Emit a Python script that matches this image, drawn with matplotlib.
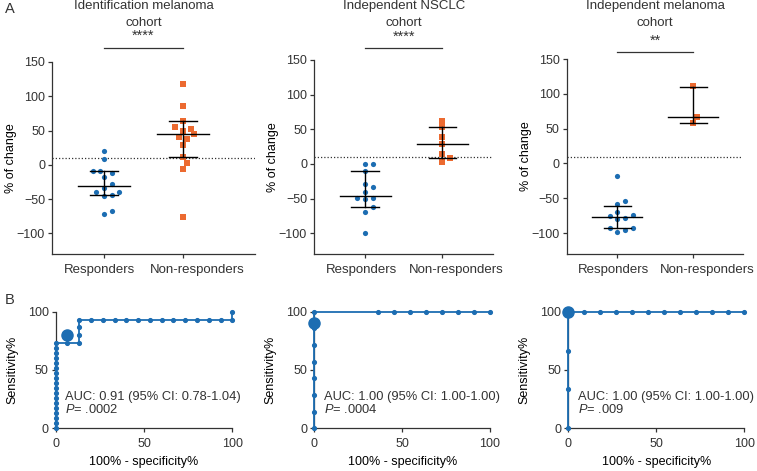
import numpy as np
import matplotlib.pyplot as plt
from matplotlib.transforms import blended_transform_factory, ScaledTranslation

plt.rcParams['font.family'] = ['Liberation Sans', 'DejaVu Sans']
plt.rcParams['mathtext.fontset'] = 'custom'
plt.rcParams['mathtext.it'] = 'Liberation Sans:italic'
plt.rcParams['mathtext.rm'] = 'Liberation Sans'
plt.rcParams['text.color'] = '#333333'
plt.rcParams['xtick.color'] = '#333333'
plt.rcParams['ytick.color'] = '#333333'

BLUE = '#1c6db2'
ORANGE = '#ec6a30'
DARK = '#333333'

# --- panel A: % of change per cohort ---
titles = ["Identification melanoma\ncohort", "Independent NSCLC\ncohort", "Independent melanoma\ncohort"]
stars = ["****", "****", "**"]
categories = ["Responders", "Non-responders"]

resp1 = [20, 8, -9, -12, -9, -17.5, -28.5, -34, -39, -44, -45, -39, -72, -68]
nonresp1 = [118, 86, 64, 53, 55, 49, 45, 38, 40, 29, 11, 2.5, -6, -76]
resp2 = [0, 0, -9.6, -29, -34, -41, -49.5, -51, -49.5, -61.5, -68.7, -100]
nonresp2 = [62.5, 53, 39, 28.4, 15, 9, 2.4]
resp3 = [-18, -54, -58.4, -70.4, -74.7, -75.2, -77.6, -80, -92.4, -92, -98.6, -96.2]
nonresp3 = [110.8, 66.4, 57.8]

# median, lower and upper bar
resp_med = [-31, -45.7, -76.6]
resp_lo = [-43.7, -61.5, -92]
resp_hi = [-8.7, -9.6, -61.3]
nonresp_med = [44.8, 28.4, 66.4]
nonresp_lo = [10.8, 9.1, 57.8]
nonresp_hi = [63.7, 53.8, 110]

cutoff = 10

# --- panel B: ROC curves ---
roc1_x = [0] * 18 + [6.67, 13.33, 13.33, 13.33, 13.33, 20, 26.67, 33.33, 40, 46.67,
                     53.33, 60, 66.67, 73.33, 80, 86.67, 93.33, 100, 100]
roc1_y = [0, 4.3, 8.6, 12.9, 17.3, 21.6, 25.9, 30.2, 34.5, 38.8, 43.1, 47.4, 51.8,
          56.1, 60.4, 64.7, 69.0, 73.3, 73.3, 73.3, 80, 86.7, 93.3] + [93.3] * 13 + [100]
roc2_x = [0] * 8 + [36.4, 45.5, 54.5, 63.6, 72.7, 81.8, 90.9, 100]
roc2_y = [0, 14.3, 28.6, 42.9, 57.1, 71.4, 85.7, 100] + [100] * 8
roc3_x = [0, 0, 0, 0, 9.1, 18.2, 27.3, 36.4, 45.5, 54.5, 63.6, 72.7, 81.8, 90.9, 100]
roc3_y = [0, 33.3, 66.7, 100] + [100] * 11
best_x = [6.67, 0, 0]
best_y = [80, 90, 100]
auc_text = ["AUC: 0.91 (95% CI: 0.78-1.04)", "AUC: 1.00 (95% CI: 1.00-1.00)", "AUC: 1.00 (95% CI: 1.00-1.00)"]
p_text = [".0002", ".0004", ".009"]


def swarm(vals, ppu_x, ppu_y, diam=6.5, step=3.8):
    # simple beeswarm: spread points sideways so they do not overlap (pixel space)
    vals = np.asarray(vals, dtype=float)
    offs = np.zeros(len(vals))
    placed = []
    cands = [0.0] + [s * j * step for j in range(1, 30) for s in (1, -1)]
    for i in np.argsort(vals):
        y = vals[i] * ppu_y
        for c in cands:
            if all((c - px) ** 2 + (y - py) ** 2 >= diam ** 2 for px, py in placed):
                break
        placed.append((c, y))
        offs[i] = c / ppu_x
    return offs


fig = plt.figure(figsize=(7.57, 4.71), dpi=100)
W, H = 757, 471


def frac(left, right, top, bottom):
    return [left / W, 1 - bottom / H, (right - left) / W, (bottom - top) / H]


a_boxes = [frac(52, 255, 62, 254), frac(314, 493, 60, 254), frac(566.7, 743, 59, 254)]
a_xlims = [(-0.658, 1.911), (-0.66, 1.656), (-0.666, 1.654)]
sig_px = [47.7, 47.7, 51.7]
star_px = [36, 37, 41]
resp_all = [resp1, resp2, resp3]
nonresp_all = [nonresp1, nonresp2, nonresp3]
label_shift = [-4, 14]  # px; the category labels sit apart as in the original

for i in range(3):
    ax = fig.add_axes(a_boxes[i])
    ax.set_xlim(*a_xlims[i])
    ax.set_ylim(-130, 150)
    ppu_x = a_boxes[i][2] * W / (a_xlims[i][1] - a_xlims[i][0])
    ppu_y = a_boxes[i][3] * H / 280

    ax.axhline(cutoff, color=DARK, lw=0.9, ls=(0, (1, 1.6)), zorder=1)

    r = np.array(resp_all[i])
    n = np.array(nonresp_all[i])
    ax.scatter(0 + swarm(r, ppu_x, ppu_y), r, s=14, marker='o', color=BLUE,
               linewidths=0, zorder=3)
    ax.scatter(1 + swarm(n, ppu_x, ppu_y), n, s=13, marker='s', color=ORANGE,
               linewidths=0, zorder=3)

    for g, med, lo, hi in [(0, resp_med[i], resp_lo[i], resp_hi[i]),
                           (1, nonresp_med[i], nonresp_lo[i], nonresp_hi[i])]:
        ax.plot([g - 0.33, g + 0.33], [med, med], color='black', lw=1.0, zorder=4)
        ax.plot([g - 0.175, g + 0.175], [lo, lo], color='black', lw=1.0, zorder=4)
        ax.plot([g - 0.175, g + 0.175], [hi, hi], color='black', lw=1.0, zorder=4)
        ax.plot([g, g], [lo, hi], color='black', lw=1.0, zorder=4)

    ax.set_yticks([-100, -50, 0, 50, 100, 150])
    ax.set_xticks([0, 1])
    ax.set_xticklabels(categories, fontsize=9.5)
    ax.tick_params(axis='y', labelsize=9, length=3, width=0.9, pad=2)
    ax.tick_params(axis='x', length=3, width=0.9, pad=4)
    for lab, dx in zip(ax.get_xticklabels(), label_shift):
        lab.set_transform(lab.get_transform() + ScaledTranslation(dx / 100, 0, fig.dpi_scale_trans))
    ax.set_ylabel("% of change", fontsize=9, labelpad=0)
    for s in ['top', 'right']:
        ax.spines[s].set_visible(False)
    for s in ['left', 'bottom']:
        ax.spines[s].set_color(DARK)
        ax.spines[s].set_linewidth(0.9)

    tr = blended_transform_factory(ax.transData, fig.transFigure)
    ax.plot([0, 1], [1 - sig_px[i] / H] * 2, color=DARK, lw=0.9, transform=tr, clip_on=False)
    ax.text(0.5, 1 - star_px[i] / H, stars[i], transform=tr, ha='center', va='center',
            fontsize=10.5)
    ax.text(0.5, 1 - 14.5 / H, titles[i], transform=tr, ha='center', va='center',
            fontsize=9.5, linespacing=1.45)

b_boxes = [frac(55.7, 232.3, 311.7, 428.3), frac(314.3, 490, 311.7, 428.3),
           frac(568.3, 744.3, 311.7, 428.3)]
roc_x = [roc1_x, roc2_x, roc3_x]
roc_y = [roc1_y, roc2_y, roc3_y]

for i in range(3):
    ax = fig.add_axes(b_boxes[i])
    ax.set_xlim(0, 100)
    ax.set_ylim(0, 100)
    ax.plot(roc_x[i], roc_y[i], '-o', color=BLUE, lw=1.3, ms=2.7, clip_on=False, zorder=3)
    ax.plot(best_x[i], best_y[i], 'o', color=BLUE, ms=8, clip_on=False, zorder=4)
    ax.set_xticks([0, 50, 100])
    ax.set_yticks([0, 50, 100])
    ax.tick_params(labelsize=9, length=3, width=0.9, pad=2)
    ax.tick_params(axis='x', pad=4)
    ax.set_xlabel("100% - specificity%", fontsize=9, labelpad=4)
    ax.set_ylabel("Sensitivity%", fontsize=9, labelpad=7)
    for s in ['top', 'right']:
        ax.spines[s].set_visible(False)
    for s in ['left', 'bottom']:
        ax.spines[s].set_color(DARK)
        ax.spines[s].set_linewidth(0.9)
    ax.text(5.3, 26.6, auc_text[i], fontsize=9.3, va='center', ha='left')
    ax.text(5.3, 16.5, "$P$= " + p_text[i], fontsize=9.3, va='center', ha='left')

fig.text(5 / W, 1 - 9 / H, "A", fontsize=10.5, va='center', ha='left')
fig.text(5 / W, 1 - 300 / H, "B", fontsize=10.5, va='center', ha='left')

fig.savefig("out.png", dpi=100)
